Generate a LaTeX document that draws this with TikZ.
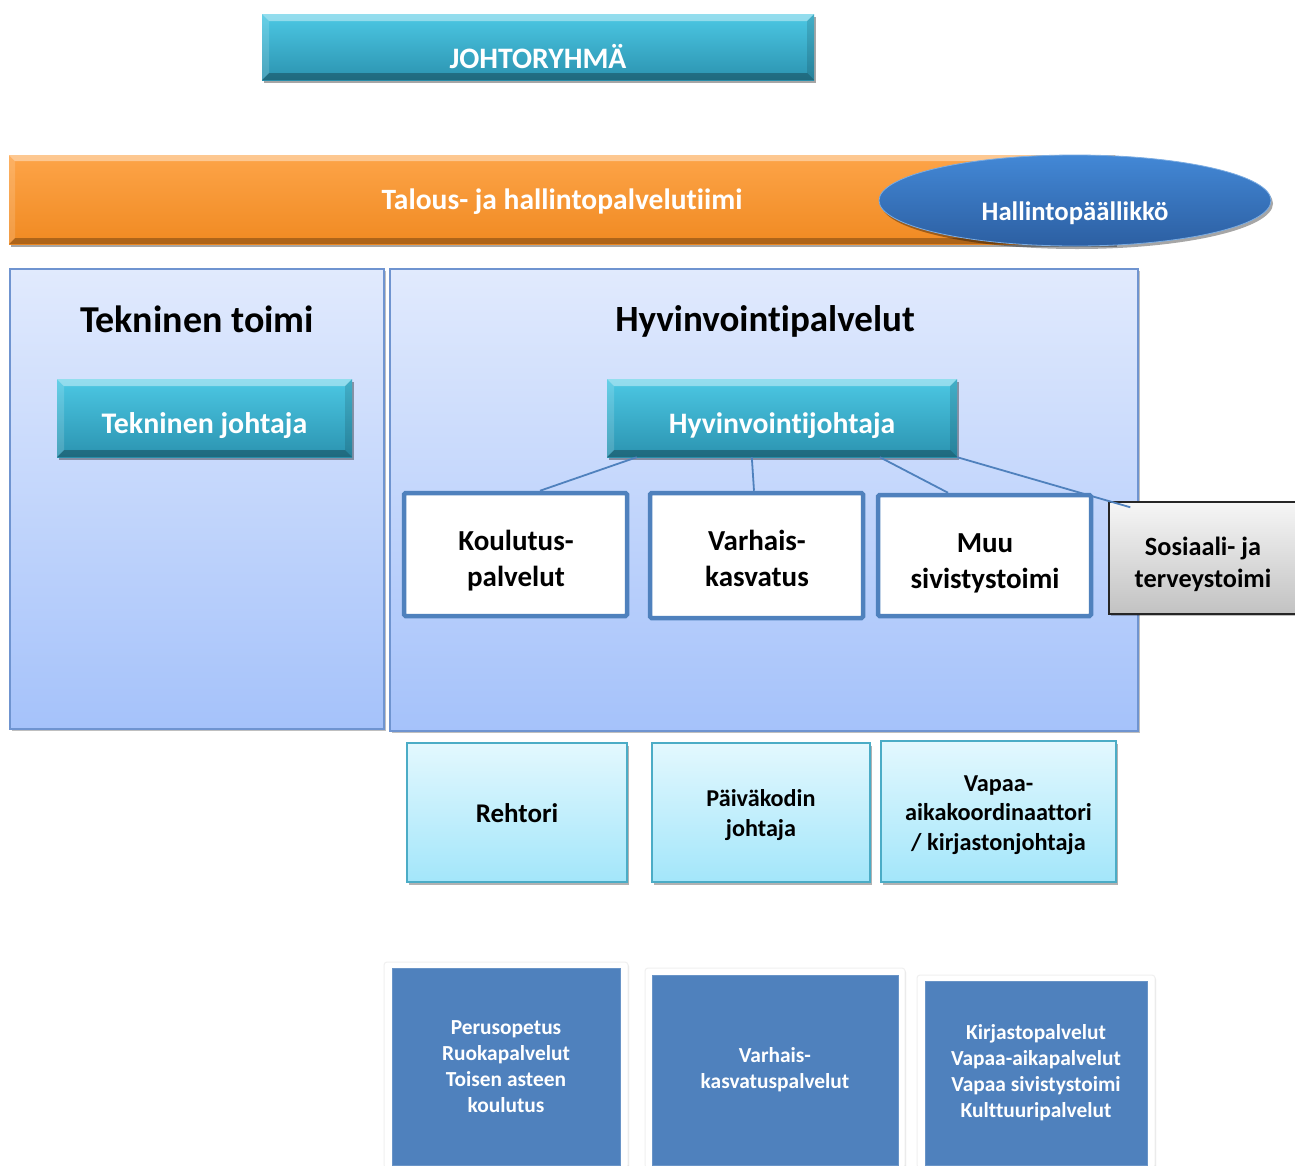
\documentclass[tikz,border=0pt]{standalone}
\usepackage{fontspec}
\setmainfont{Carlito}[Ligatures={NoCommon,NoContextual}]
\usetikzlibrary{shapes.geometric,shadows}
\definecolor{cyanT}{HTML}{4CC8E4}
\definecolor{cyanB}{HTML}{2B93B0}
\definecolor{orT}{HTML}{FDA448}
\definecolor{orB}{HTML}{F08A22}
\definecolor{panT}{HTML}{E1EAFD}
\definecolor{panB}{HTML}{A5C2FA}
\definecolor{panD}{HTML}{6F94D0}
\definecolor{lineB}{HTML}{4F81BD}
\definecolor{lbT}{HTML}{E3F8FE}
\definecolor{lbB}{HTML}{A3E6FA}
\definecolor{lbD}{HTML}{4BACC6}
\definecolor{elT}{HTML}{4388D6}
\definecolor{elB}{HTML}{2C5FA2}
\definecolor{grT}{HTML}{F6F6F6}
\definecolor{grB}{HTML}{C2C2C2}
\begin{document}
\begin{tikzpicture}[x=1pt,y=-1pt,
  every node/.style={inner sep=0pt},
  bevel/.style={path picture={
    \fill[white,opacity=0.40] (path picture bounding box.north west) -- (path picture bounding box.north east)
      -- ([xshift=-#1,yshift=-#1]path picture bounding box.north east) -- ([xshift=#1,yshift=-#1]path picture bounding box.north west) -- cycle;
    \fill[black,opacity=0.28] (path picture bounding box.south west) -- (path picture bounding box.south east)
      -- ([xshift=-#1,yshift=#1]path picture bounding box.south east) -- ([xshift=#1,yshift=#1]path picture bounding box.south west) -- cycle;
    \fill[white,opacity=0.15] (path picture bounding box.north west) -- (path picture bounding box.south west)
      -- ([xshift=#1,yshift=#1]path picture bounding box.south west) -- ([xshift=#1,yshift=-#1]path picture bounding box.north west) -- cycle;
    \fill[black,opacity=0.12] (path picture bounding box.north east) -- (path picture bounding box.south east)
      -- ([xshift=-#1,yshift=#1]path picture bounding box.south east) -- ([xshift=-#1,yshift=-#1]path picture bounding box.north east) -- cycle;
  }},
  softshadow/.style={drop shadow={shadow xshift=2pt,shadow yshift=-3pt,opacity=0.35,fill=black}},
  cyanbox/.style={rectangle, top color=cyanT, bottom color=cyanB, bevel=7pt, text=white, softshadow},
  orbar/.style={rectangle, top color=orT, bottom color=orB, bevel=6pt, text=white, softshadow},
  panel/.style={rectangle, top color=panT, bottom color=panB, draw=panD, line width=1.2pt,
    drop shadow={shadow xshift=1.5pt,shadow yshift=-1.5pt,opacity=0.25,fill=black}},
  whitebox/.style={rectangle, fill=white, draw=lineB, line width=4.5pt, rounded corners=1.5pt},
  graybox/.style={rectangle, top color=grT, bottom color=grB, draw=black!85, line width=1.5pt,
    drop shadow={shadow xshift=1.5pt,shadow yshift=-1.5pt,opacity=0.25,fill=black}},
  lightbox/.style={rectangle, top color=lbT, bottom color=lbB, draw=lbD, line width=1.8pt, align=center,
    drop shadow={shadow xshift=2pt,shadow yshift=-3pt,opacity=0.3,fill=black}},
  frame/.style={rectangle, fill=white, draw=black!6, line width=1pt, rounded corners=3pt,
    drop shadow={shadow xshift=1pt,shadow yshift=-1.5pt,opacity=0.12,fill=black}},
  bluebox/.style={rectangle, fill=lineB, draw=lineB!85!white, line width=0.6pt, text=white, align=center,
    font=\bfseries\fontsize{21.4}{26}\selectfont},
  conn/.style={draw=lineB, line width=1.8pt},
  btext/.style={align=center, font=\bfseries\fontsize{29}{36}\selectfont},
]
\useasboundingbox (0,0) rectangle (1295,1165);
\fill[white] (0,0) rectangle (1295,1165);

% top
\node[cyanbox, minimum width=552pt, minimum height=66pt, text height=42pt, text depth=0pt,
  font=\bfseries\fontsize{29.7}{35}\selectfont] (jr) at (538,47) {JOHTORYHMÄ};

\node[orbar, minimum width=1106pt, minimum height=89pt, text height=20pt, text depth=0pt,
  font=\bfseries\fontsize{29.5}{34}\selectfont] (tal) at (562,199.5) {Talous- ja hallintopalvelutiimi};
\node[ellipse, top color=elT, bottom color=elB, draw=elT!70!white, line width=0.8pt,
  minimum width=392pt, minimum height=91pt, text=white, text height=40pt, text depth=0pt,
  font=\bfseries\fontsize{26.7}{32}\selectfont, softshadow] (hp) at (1075,200.5) {Hallintopäällikkö};

% panels
\node[panel, minimum width=374pt, minimum height=460pt] (tp) at (197,499) {};
\node[panel, minimum width=748pt, minimum height=462pt] (hv) at (764,500) {};
\node[anchor=base, font=\bfseries\fontsize{38}{44}\selectfont] (tpt) at (197,332) {Tekninen toimi};
\node[anchor=base, font=\bfseries\fontsize{37}{44}\selectfont] (hvt) at (765,331) {Hyvinvointipalvelut};

\node[cyanbox, minimum width=295pt, minimum height=78pt, text height=30pt, text depth=0pt,
  font=\bfseries\fontsize{29.9}{35}\selectfont] (tj) at (204.5,418) {Tekninen johtaja};
\node[cyanbox, minimum width=350pt, minimum height=78pt, text height=30pt, text depth=0pt,
  font=\bfseries\fontsize{29.7}{35}\selectfont] (hj) at (782,418) {Hyvinvointijohtaja};

% units
\node[whitebox, minimum width=223pt, minimum height=123pt] (kp) at (515.5,554.5) {};
\node[whitebox, minimum width=213pt, minimum height=125pt] (vk) at (756.5,555.5) {};
\node[whitebox, minimum width=213pt, minimum height=121pt] (ms) at (984.5,555.5) {};
\node[graybox, minimum width=188pt, minimum height=112pt] (ss) at (1203,558) {};
\node[btext] (kpt) at (516,561) {Koulutus-\\palvelut};
\node[btext] (vkt) at (757,558.5) {Varhais-\\kasvatus};
\node[btext] (mst) at (985,563) {Muu\\sivistystoimi};
\node[btext, font=\bfseries\fontsize{26.3}{32}\selectfont] (sst) at (1203,564.5) {Sosiaali- ja\\terveystoimi};

% connectors
\draw[conn] ([xshift=30pt]hj.south west) -- ([xshift=24.5pt]kp.north);
\draw[conn] ([xshift=145pt]hj.south west) -- ([xshift=-2.5pt]vk.north);
\draw[conn] ([xshift=273pt]hj.south west) -- ([xshift=-36.5pt]ms.north);
\draw[conn] (hj.south east) -- ([xshift=22pt,yshift=-6pt]ss.north west);

% leaders
\node[lightbox, minimum width=220pt, minimum height=139pt, text height=19pt, text depth=0pt,
  font=\bfseries\fontsize{27}{32}\selectfont] (re) at (517,812.5) {Rehtori};
\node[lightbox, minimum width=218pt, minimum height=139pt] (pj) at (761,812.5) {};
\node[align=center, font=\bfseries\fontsize{24.2}{30}\selectfont] (pjt) at (761,815.5) {Päiväkodin\\johtaja};
\node[lightbox, minimum width=235pt, minimum height=141pt] (va) at (998.5,811.5) {};
\node[align=center, font=\bfseries\fontsize{24.3}{29.5}\selectfont] (vat) at (998.5,815) {Vapaa-\\aikakoordinaattori\\/ kirjastonjohtaja};

% services
\node[frame, minimum width=244pt, minimum height=206pt] (f1) at (506,1065) {};
\node[frame, minimum width=260pt, minimum height=200pt] (f2) at (775,1068) {};
\node[frame, minimum width=238pt, minimum height=193pt] (f3) at (1036,1071.5) {};
\node[bluebox, minimum width=228pt, minimum height=197pt] (b1) at (506,1066.5)
  {Perusopetus\\Ruokapalvelut\\Toisen asteen\\koulutus};
\node[bluebox, minimum width=246pt, minimum height=190pt] (b2) at (775,1070)
  {Varhais-\\kasvatuspalvelut};
\node[bluebox, minimum width=222pt, minimum height=184pt] (b3) at (1036,1073)
  {Kirjastopalvelut\\Vapaa-aikapalvelut\\Vapaa sivistystoimi\\Kulttuuripalvelut};
\end{tikzpicture}
\end{document}
